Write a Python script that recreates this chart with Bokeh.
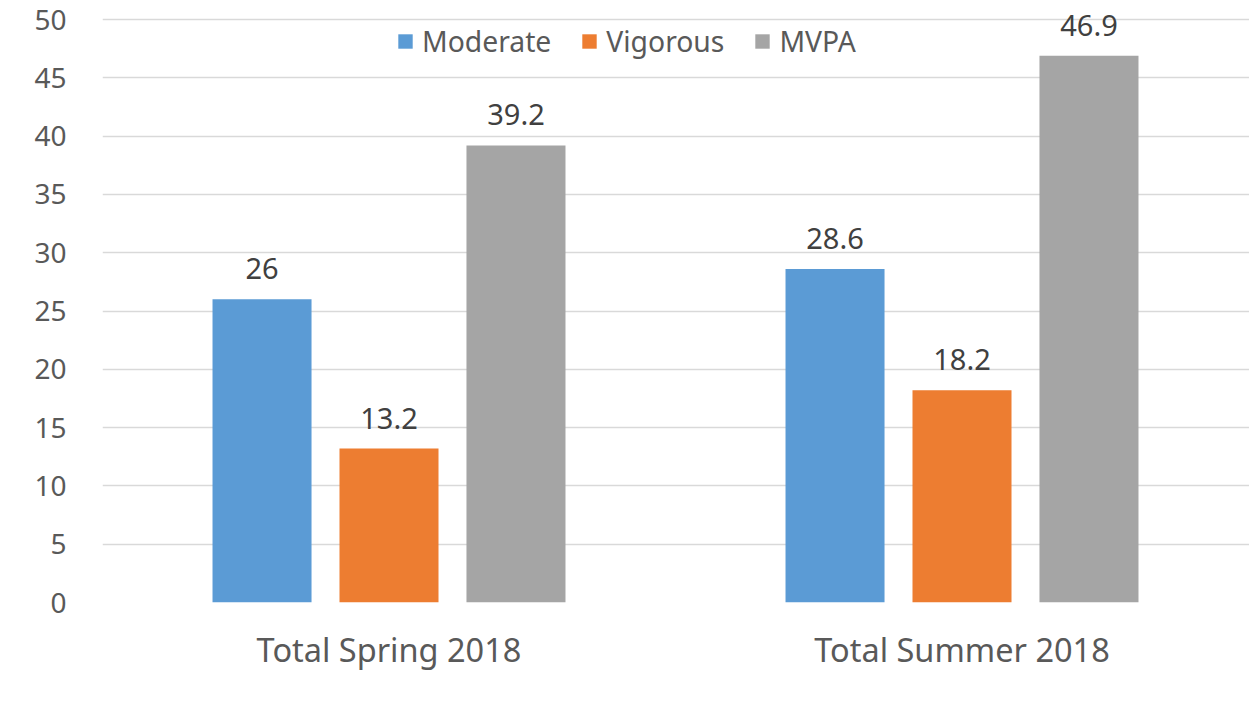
from bokeh.plotting import figure
from bokeh.models import Range1d, FixedTicker, Legend, LegendItem, ColumnDataSource
from bokeh.core.properties import value
from bokeh.embed import file_html
from bokeh.resources import INLINE

categories = ["Total Spring 2018", "Total Summer 2018"]
series = ["Moderate", "Vigorous", "MVPA"]
moderate = [26, 28.6]
vigorous = [13.2, 18.2]
mvpa = [39.2, 46.9]
values = [moderate, vigorous, mvpa]
labels = [["26", "28.6"], ["13.2", "18.2"], ["39.2", "46.9"]]
colors = ["#5B9BD5", "#ED7D31", "#A5A5A5"]
y_ticks = [0, 5, 10, 15, 20, 25, 30, 35, 40, 45, 50]

FONT = "Noto Sans"
W, H = 1249, 712
left, top, bottom = 102, 2, 110
frame_w = W - left
frame_h = H - top - bottom
cat_px = 573.0
unit_px = 583.0 / 50.0
x_end = frame_w / cat_px
y_end = frame_h / unit_px

p = figure(width=W, height=H, output_backend="svg", toolbar_location=None,
           x_range=Range1d(0, x_end), y_range=Range1d(0, y_end),
           min_border_left=left, min_border_right=0, min_border_top=top,
           min_border_bottom=bottom)
p.outline_line_color = None
p.background_fill_color = "white"
p.border_fill_color = "white"

centers = [i + 0.5 for i in range(len(categories))]
offsets = [-0.2216, 0.0, 0.2216]
bar_w = 0.1728

renderers = []
for s, vals, labs, col, off in zip(series, values, labels, colors, offsets):
    src = ColumnDataSource(dict(x=[c + off for c in centers], top=vals, lab=labs))
    r = p.vbar(x="x", top="top", width=bar_w, bottom=0, source=src,
               fill_color=col, line_color=None)
    renderers.append(r)
    p.text(x="x", y="top", text="lab", source=src, text_align="center",
           text_baseline="bottom", y_offset=-20, text_font=value(FONT),
           text_font_size="29px", text_color="#404040")

# axes
p.xaxis.ticker = FixedTicker(ticks=centers)
p.xaxis.major_label_overrides = {c: n for c, n in zip(centers, categories)}
p.xaxis.axis_line_color = None
p.xaxis.major_tick_line_color = None
p.xaxis.minor_tick_line_color = None
p.xaxis.major_label_text_font = FONT
p.xaxis.major_label_text_font_size = "32.5px"
p.xaxis.major_label_text_color = "#595959"
p.xaxis.major_label_standoff = 18

p.yaxis.ticker = FixedTicker(ticks=y_ticks)
p.yaxis.axis_line_color = None
p.yaxis.major_tick_line_color = None
p.yaxis.minor_tick_line_color = None
p.yaxis.major_label_text_font = FONT
p.yaxis.major_label_text_font_size = "28px"
p.yaxis.major_label_text_color = "#595959"
p.yaxis.major_label_standoff = 30

p.xgrid.grid_line_color = None
p.ygrid.ticker = FixedTicker(ticks=y_ticks)
p.ygrid.grid_line_color = "#D9D9D9"
p.ygrid.grid_line_width = 1.5

legend = Legend(items=[LegendItem(label=s, renderers=[r]) for s, r in zip(series, renderers)],
                orientation="horizontal", location=(294, 542),
                border_line_color=None, background_fill_alpha=0,
                label_text_font=FONT, label_text_font_size="28.3px",
                label_text_color="#595959", glyph_width=18, glyph_height=18,
                label_standoff=8, spacing=29, padding=0, margin=0)
p.add_layout(legend, "center")

open("out.html", "w").write(file_html(p, INLINE))
